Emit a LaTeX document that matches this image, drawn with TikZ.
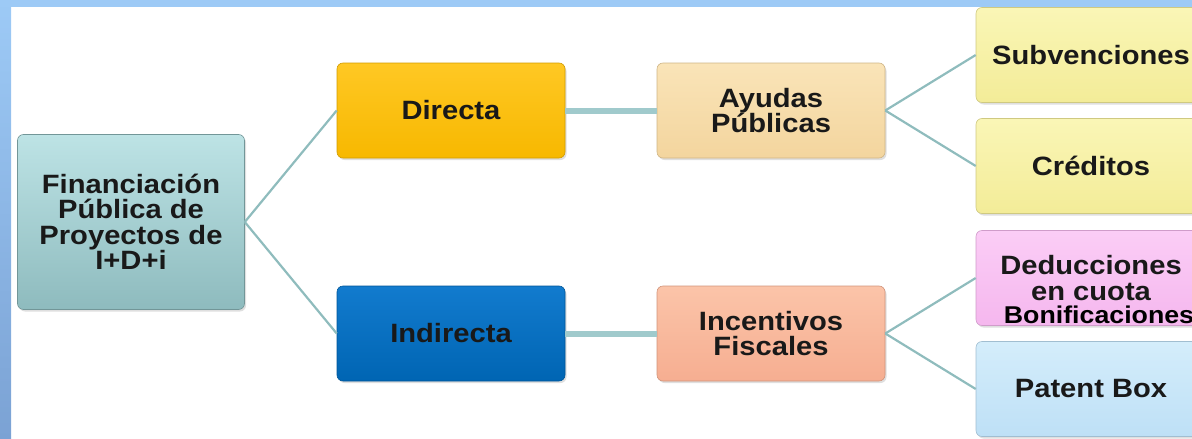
\documentclass[tikz,border=0pt]{standalone}
\usepackage{fontspec}
\setmainfont{Liberation Sans}[FakeStretch=1.1]
\usetikzlibrary{shadows}

\definecolor{frameblue}{HTML}{9DCAF6}
\definecolor{framedark}{HTML}{7BA2D4}
\definecolor{linkcol}{HTML}{8FBCBD}
\definecolor{barcol}{HTML}{A0CACC}
\definecolor{rootTop}{HTML}{BDE3E5}
\definecolor{rootBot}{HTML}{8EBBBE}
\definecolor{dirTop}{HTML}{FFC824}
\definecolor{dirBot}{HTML}{F7B800}
\definecolor{indTop}{HTML}{127BCE}
\definecolor{indBot}{HTML}{0065B3}
\definecolor{ayuTop}{HTML}{FAE4B8}
\definecolor{ayuBot}{HTML}{F3D59E}
\definecolor{incTop}{HTML}{FBC4A9}
\definecolor{incBot}{HTML}{F6AE91}
\definecolor{leafTop}{HTML}{FAF6B6}
\definecolor{leafBot}{HTML}{F3EC98}
\definecolor{dedTop}{HTML}{FBCDF6}
\definecolor{dedBot}{HTML}{F5B7EE}
\definecolor{patTop}{HTML}{D4EDFB}
\definecolor{patBot}{HTML}{BEE0F6}

\begin{document}
\begin{tikzpicture}[x=1pt, y=1pt,
  grow'=right, level distance=320pt,
  level 1/.style={sibling distance=223pt},
  level 2/.style={sibling distance=110pt,
    edge from parent/.style={draw=barcol, line width=6pt}},
  level 3/.style={sibling distance=111pt,
    edge from parent/.style={draw=linkcol, line width=2.2pt}},
  edge from parent/.style={draw=linkcol, line width=2.2pt},
  edge from parent path={(\tikzparentnode.east) -- (\tikzchildnode.west)},
  basebox/.style={rounded corners=6pt, line width=0.6pt, align=center,
    inner sep=0pt, text=black!90,
    font=\fontsize{26.5}{25.5}\selectfont\bfseries,
    drop shadow={shadow xshift=1.5pt, shadow yshift=-2pt, opacity=0.25}},
  rootbox/.style={basebox, minimum width=227pt, minimum height=175pt,
    draw=rootBot!80!black, top color=rootTop, bottom color=rootBot},
  midbox/.style={basebox, minimum width=228pt, minimum height=95pt},
  leafbox/.style={basebox, minimum width=230pt, minimum height=95pt},
  bonif/.style={font=\fontsize{24.3}{24}\selectfont\bfseries, text=black}]

% frame of the slide
\useasboundingbox (0,0) rectangle (1192,-439);
\clip (0,0) rectangle (1192,-439);
\fill[top color=frameblue, bottom color=framedark] (0,0) rectangle (11,-439);
\fill[frameblue] (0,0) rectangle (1192,-7);

\node [rootbox] (fin) at (131,-222) {Financiación\\Pública de\\Proyectos de\\I+D+i}
  child {
    node [midbox, draw=dirBot!85!black, top color=dirTop, bottom color=dirBot] (dir) {Directa}
    child {
      node [midbox, draw=ayuBot!85!black, top color=ayuTop, bottom color=ayuBot] (ayu) {Ayudas\\Públicas}
      child {
        node [leafbox, draw=leafBot!85!black, top color=leafTop, bottom color=leafBot] (sub) {Subvenciones}
      }
      child {
        node [leafbox, draw=leafBot!85!black, top color=leafTop, bottom color=leafBot] (cre) {Créditos}
      }
    }
  }
  child {
    node [midbox, draw=indBot!85!black, top color=indTop, bottom color=indBot] (ind) {Indirecta}
    child {
      node [midbox, draw=incBot!85!black, top color=incTop, bottom color=incBot] (inc) {Incentivos\\Fiscales}
      child {
        node [leafbox, draw=dedBot!85!black, top color=dedTop, bottom color=dedBot] (ded) {Deducciones\\en cuota}
      }
      child {
        node [leafbox, draw=patBot!85!black, top color=patTop, bottom color=patBot] (pat) {Patent Box}
      }
    }
  };

\node [bonif] (bon) at ([xshift=8pt, yshift=11pt]ded.south) {Bonificaciones};
\end{tikzpicture}
\end{document}
